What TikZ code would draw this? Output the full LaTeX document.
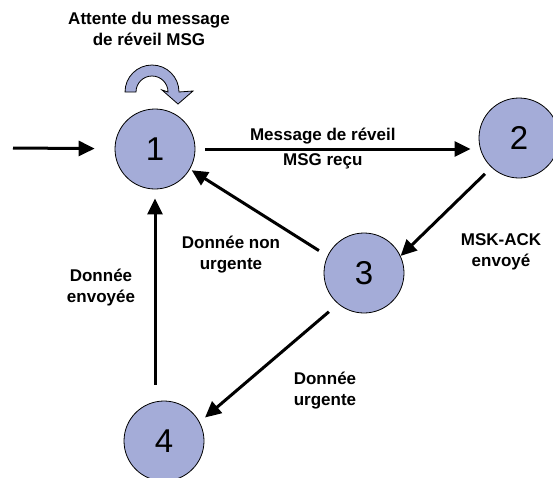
\documentclass[tikz,border=0pt]{standalone}
\usepackage{fontspec}
\setmainfont{Liberation Sans}
\usetikzlibrary{arrows.meta}
\definecolor{statefill}{RGB}{164,172,216}
\tikzstyle{state} = [circle, minimum size=80pt, inner sep=0pt, draw=black, line width=0.8pt, fill=statefill, font=\fontsize{33}{36}\selectfont]
\tikzstyle{txt} = [align=center, font=\bfseries\fontsize{17}{21}\selectfont]
\tikzstyle{arr} = [line width=3pt, -{Triangle[length=16pt, width=15pt]}]

\begin{document}
\begin{tikzpicture}[x=1pt, y=-1pt]
\useasboundingbox (0,0) rectangle (553,477);
% etats
\node (s1) [state] at (155,149) {1};
\node (s2) [state] at (519,138) {2};
\node (s3) [state] at (364,273) {3};
\node (s4) [state] at (164,441) {4};
\coordinate (start) at (13,148);
% boucle sur 1
\filldraw[fill=statefill, draw=black, line width=0.8pt] (136,92) -- (125,92) arc[start angle=180, end angle=360, radius=27] -- (193,91) -- (178,104) -- (162,90) -- (168,92) arc[start angle=0, end angle=-180, radius=16] -- cycle;
\node (t0) [txt] at (149,29) {Attente du message\\de réveil MSG};
% transitions
\draw[arr, shorten >=20pt] (start) -- (s1);
\draw[arr, shorten <=10pt, shorten >=8pt] (s1.east) -- (s1.east -| s2.west) node[txt, above, pos=0.45] {Message de réveil} node[txt, below, pos=0.45] {MSG reçu};
\draw[arr, shorten <=9pt] (s2.227) -- (s3.25);
\draw[arr, shorten <=10pt, shorten >=2pt] (s3.155) -- (s1.-30);
\draw[arr, shorten <=12pt, shorten >=7pt] (s3.230) -- (s4.28);
\draw[arr, shorten <=16pt, shorten >=9pt] (s4.north -| s1.south) -- (s1.south);
% textes
\node (t3) [txt] at (231,255) {Donnée non\\urgente};
\node (t2) [txt] at (501,252) {MSK-ACK\\envoyé};
\node (t4) [txt] at (101,288) {Donnée\\envoyée};
\node (t5) [txt] at (325,391) {Donnée\\urgente};
\end{tikzpicture}
\end{document}
